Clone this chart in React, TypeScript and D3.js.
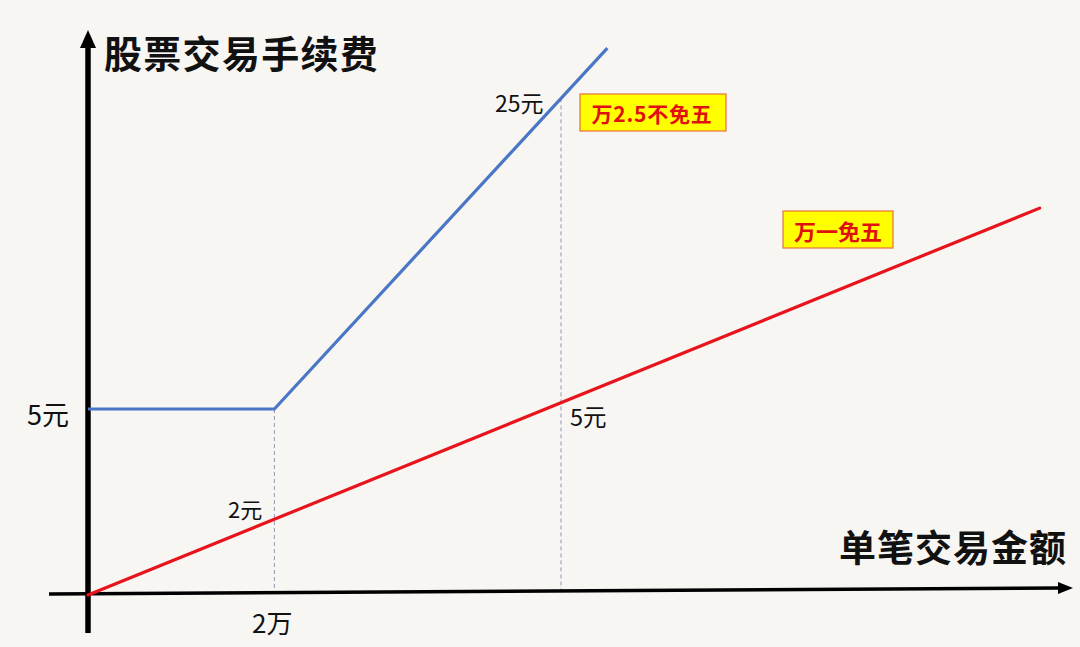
import React from "react";
import * as d3 from "d3";

// data (x in 万元 of trade amount, y in 元 of fee) — schematic values
const blueX = [0, 1.97, 5.49];
const blueY = [5, 5, 14.7];
const redX = [0, 10.06];
const redY = [0, 10.4];
const guideX = [1.97, 5.0];
const yTitle = "股票交易手续费";
const xTitle = "单笔交易金额";
const blueLabel = "万2.5不免五";
const redLabel = "万一免五";
const pointLabels = ["5元", "2元", "25元", "5元", "2万"];

const W = 1080;
const H = 647;

export default function App() {
  const x = d3.scaleLinear().domain([0, 5]).range([88, 561]);
  const y = d3.scaleLinear().domain([0, 5]).range([595, 409]);

  const line = d3
    .line<[number, number]>()
    .x((d) => x(d[0]))
    .y((d) => y(d[1]));

  const bluePts: [number, number][] = blueX.map((v, i) => [v, blueY[i]]);
  const redPts: [number, number][] = redX.map((v, i) => [v, redY[i]]);

  const blueAt = (v: number) => {
    for (let i = 1; i < blueX.length; i++) {
      if (v <= blueX[i]) {
        const t = (v - blueX[i - 1]) / (blueX[i] - blueX[i - 1]);
        return blueY[i - 1] + t * (blueY[i] - blueY[i - 1]);
      }
    }
    return blueY[blueY.length - 1];
  };
  // slightly tilted x-axis in the picture
  const axisY = (px: number) => 594 - ((px - 49) * 6) / 1011;

  const cjk = "'Noto Sans CJK SC', 'Noto Sans', sans-serif";

  return (
    <svg
      width={W}
      height={H}
      style={{ position: "fixed", left: 0, top: 0, display: "block", background: "#f8f6f3" }}
    >
      <rect x={0} y={0} width={W} height={H} fill="#f8f6f3" />

      {guideX.map((g, i) => (
        <line
          key={i}
          x1={x(g)}
          x2={x(g)}
          y1={y(blueAt(g))}
          y2={axisY(x(g))}
          stroke="#8e97b3"
          strokeWidth={1}
          strokeDasharray="4,3"
        />
      ))}

      <line x1={49} y1={axisY(49)} x2={1060} y2={axisY(1060)} stroke="#000" strokeWidth={3.5} />
      <path d={`M1073,${axisY(1073)} L1058,${axisY(1058) - 6} L1058,${axisY(1058) + 6} Z`} fill="#000" />
      <line x1={88} y1={633} x2={88} y2={45} stroke="#000" strokeWidth={5.5} />
      <path d="M88,30 L80,48 L96,48 Z" fill="#000" />

      <path d={line(redPts) || ""} fill="none" stroke="#e8141c" strokeWidth={3.2} strokeLinecap="round" />
      <path d={line(bluePts) || ""} fill="none" stroke="#4a76c6" strokeWidth={3.2} strokeLinejoin="round" />

      <text x={104} y={51} fontFamily={cjk} fontSize={38} fontWeight={700} dominantBaseline="central" letterSpacing={1.3} fill="#111">
        {yTitle}
      </text>
      <text x={839} y={546} fontFamily={cjk} fontSize={37} fontWeight={700} dominantBaseline="central" letterSpacing={1} fill="#111">
        {xTitle}
      </text>

      <text x={27} y={413} fontFamily={cjk} fontSize={27} dominantBaseline="central" fill="#111">
        {pointLabels[0]}
      </text>
      <text x={228} y={508} fontFamily={cjk} fontSize={22} dominantBaseline="central" fill="#111">
        {pointLabels[1]}
      </text>
      <text x={495} y={102} fontFamily={cjk} fontSize={23} dominantBaseline="central" fill="#111">
        {pointLabels[2]}
      </text>
      <text x={570} y={416} fontFamily={cjk} fontSize={23.5} dominantBaseline="central" fill="#111">
        {pointLabels[3]}
      </text>
      <text x={252} y={621} fontFamily={cjk} fontSize={26} dominantBaseline="central" fill="#111">
        {pointLabels[4]}
      </text>

      <rect x={580} y={94} width={146} height={37} fill="#ffff00" stroke="#e8703c" strokeWidth={1.2} />
      <text x={652} y={113} fontFamily={cjk} fontSize={21} fontWeight={700} textAnchor="middle" dominantBaseline="central" fill="#e01010" letterSpacing={0.8}>
        {blueLabel}
      </text>
      <rect x={783} y={211} width={110} height={37} fill="#ffff00" stroke="#e8703c" strokeWidth={1.2} />
      <text x={838} y={230} fontFamily={cjk} fontSize={22} fontWeight={700} textAnchor="middle" dominantBaseline="central" fill="#e01010">
        {redLabel}
      </text>
    </svg>
  );
}
